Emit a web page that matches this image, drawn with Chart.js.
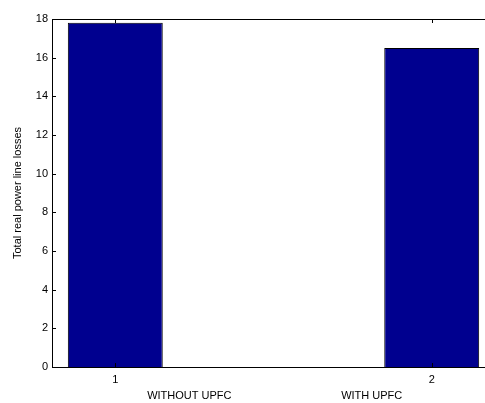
<html>
<head>
  <title>Line losses</title>
  <script src="https://cdn.jsdelivr.net/npm/chart.js@4.4.1/dist/chart.umd.min.js"></script>
  <style>
    body { margin: 0; overflow: hidden; background: #fff; }
    .chart-box { width: 495px; height: 403px; }
  </style>
</head>
<body>
<div class="chart-box">
  <canvas id="chartCanvas1" width="495" height="403"></canvas>
</div>
<script>
  // bar positions, case names and losses
  const casePositions = [1, 2];
  const caseNames = ['WITHOUT UPFC', 'WITH UPFC'];
  const lineLosses = [17.8, 16.5];
  const yTickValues = [0, 2, 4, 6, 8, 10, 12, 14, 16, 18];

  const FONT = 'Liberation Sans, Arial, sans-serif';

  // matlab style box with inward ticks and the case captions
  const boxPlugin = {
    id: 'boxPlugin',
    afterDatasetsDraw(chart) {
      const ctx = chart.ctx;
      const a = chart.chartArea;
      const xs = chart.scales.x, ys = chart.scales.y;
      ctx.save();
      ctx.strokeStyle = '#000';
      ctx.lineWidth = 1;
      ctx.beginPath();
      ctx.moveTo(a.left + 0.5, a.top + 0.5);
      ctx.lineTo(a.right + 0.5, a.top + 0.5);
      ctx.moveTo(a.left + 0.5, a.top);
      ctx.lineTo(a.left + 0.5, a.bottom + 0.5);
      ctx.lineTo(a.right, a.bottom + 0.5);
      ys.ticks.forEach(t => {
        const y = Math.round(ys.getPixelForValue(t.value)) + 0.5;
        ctx.moveTo(a.left, y);
        ctx.lineTo(a.left + 4, y);
      });
      xs.ticks.forEach(t => {
        const x = Math.round(xs.getPixelForValue(t.value)) + 0.5;
        ctx.moveTo(x, a.bottom);
        ctx.lineTo(x, a.bottom - 4);
        ctx.moveTo(x, a.top);
        ctx.lineTo(x, a.top + 4);
      });
      ctx.stroke();

      ctx.fillStyle = '#000';
      ctx.font = '11px ' + FONT;
      ctx.textAlign = 'center';
      ctx.textBaseline = 'middle';
      const shift = [74, -60];
      caseNames.forEach((name, i) => {
        ctx.fillText(name, xs.getPixelForValue(casePositions[i]) + shift[i], 396);
      });
      ctx.restore();
    }
  };

  const ctx = document.getElementById('chartCanvas1').getContext('2d');
  const chart = new Chart(ctx, {
    type: 'bar',
    data: {
      datasets: [{
        data: casePositions.map((x, i) => ({ x: x, y: lineLosses[i] })),
        backgroundColor: 'rgb(0, 0, 143)',
        borderColor: '#000',
        borderWidth: 1,
        barPercentage: 0.3,
        categoryPercentage: 1
      }]
    },
    options: {
      responsive: false,
      animation: false,
      layout: { padding: { top: 19, right: 0, left: 0, bottom: 0 } },
      plugins: { legend: { display: false }, tooltip: { enabled: false } },
      scales: {
        x: {
          type: 'linear',
          min: 0.8,
          max: 2.2,
          offset: false,
          bounds: 'ticks',
          grid: { display: false, drawTicks: false, offset: false },
          border: { display: false },
          afterBuildTicks: s => { s.ticks = casePositions.map(v => ({ value: v })); },
          afterFit: s => { s.height = 36; },
          ticks: {
            color: '#000',
            padding: 6,
            maxRotation: 0,
            font: { family: FONT, size: 11 }
          }
        },
        y: {
          min: 0,
          max: 18,
          grid: { display: false, drawTicks: false },
          border: { display: false },
          afterBuildTicks: s => { s.ticks = yTickValues.map(v => ({ value: v })); },
          afterFit: s => { s.width = 52; },
          ticks: {
            color: '#000',
            padding: 4,
            font: { family: FONT, size: 11 }
          },
          title: {
            display: true,
            text: 'Total real power line losses',
            color: '#000',
            padding: { top: 11, bottom: 0 },
            font: { family: FONT, size: 11 }
          }
        }
      }
    },
    plugins: [boxPlugin]
  });
</script>
</body>
</html>
